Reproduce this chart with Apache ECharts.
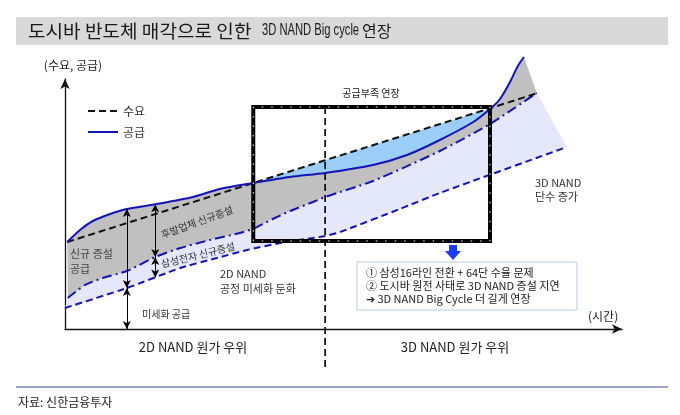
<!DOCTYPE html>
<html><head><meta charset="utf-8">
<script src="https://cdn.jsdelivr.net/npm/echarts@6/dist/echarts.min.js"></script>
<style>html,body{margin:0;padding:0;background:#fff}#c{width:680px;height:415px}</style>
</head><body><div id="c"></div>
<script>
// ---- conceptual data (x: time 0-100, y: quantity 0-100) ----
const demand = [[0.4,34.8],[33.8,58.4],[46.7,67.5],[76.3,88.3],[84.9,94.4]];
const supply = [[0.4,34.8],[2.7,39.6],[5,43.2],[8.1,46],[11.1,48],[16.5,50],[23,52.8],[27.8,56],[33.8,58.4],[40.4,60.8],[46.7,62.4],[55.3,65.6],[61.4,69.6],[67.3,75.6],[73.3,82.8],[76.3,88],[78.1,92],[79.9,98.8],[81.3,105.2],[82.4,108.8]];
const samsungNew = [[0.5,12.4],[3.6,17.6],[6.8,20.4],[11.1,23.2],[16.2,28.8],[20.7,32.4],[26,35.6],[31.4,38.4],[34.1,40.4],[37.3,44],[40.4,47.2],[44.5,50.8],[46.7,52.8],[55.3,59.2],[67.3,71.2],[76.3,82],[84.7,94.4]];
const shrinkSupply = [[0,8.4],[11.1,16.4],[20.7,24.4],[26.6,28],[32.7,31.6],[38.6,34.4],[44.5,36.4],[46.7,37.2],[49.4,38.8],[60.1,48],[67.3,54.4],[90.1,72.8]];
const shortagePeriod = [33.8, 76.3];
const shortageLevel = [35.2, 88.8];
const costCrossover = 46.7;
const legendNames = ['수요', '공급'];

const KR = "'Noto Sans CJK KR','Noto Sans',sans-serif";
const BLUE = '#1414b4';

function valAt(arr, x) {
  for (let i = 1; i < arr.length; i++) {
    if (x <= arr[i][0]) {
      const [x0, y0] = arr[i-1], [x1, y1] = arr[i];
      return y0 + (y1 - y0) * (x - x0) / (x1 - x0);
    }
  }
  return arr[arr.length-1][1];
}
const inRange = (arr) => arr.filter(p => p[0] >= shortagePeriod[0] - 1e-6 && p[0] <= shortagePeriod[1] + 1e-6);

const grayPoly = supply.concat(samsungNew.slice().reverse());
const lavPoly = samsungNew.concat(shrinkSupply.slice().reverse());
const bluePoly = inRange(demand).concat(inRange(supply).reverse());
const boxPath = [[shortagePeriod[0],shortageLevel[0]],[shortagePeriod[0],shortageLevel[1]],[shortagePeriod[1],shortageLevel[1]],[shortagePeriod[1],shortageLevel[0]],[shortagePeriod[0],shortageLevel[0]]];
const dividerPath = [[costCrossover, shortageLevel[1]],[costCrossover, -15.6]];

const xA = 11.1, xB = 16.2;
const arrowLines = [
  [{coord:[xA, valAt(supply,xA)]},{coord:[xA, valAt(shrinkSupply,xA)]}],
  [{coord:[xA, valAt(shrinkSupply,xA)]},{coord:[xA, 0]}],
  [{coord:[xB, valAt(supply,xB)]},{coord:[xB, valAt(samsungNew,xB)]}],
  [{coord:[xB, valAt(samsungNew,xB)]},{coord:[xB, valAt(shrinkSupply,xB)]}],
  [{coord:[-0.4, -11.2]},{coord:[costCrossover, -11.2]}],
  [{coord:[costCrossover, -11.2]},{coord:[99.1, -11.2]}]
];

const chart = echarts.init(document.getElementById('c'), null, {renderer:'canvas'});
const txt = (x, y, text, o) => Object.assign({type:'text', x, y, z:100, silent:true, style:Object.assign({text, font:`${(o&&o.size)||11}px ${KR}`, fill:(o&&o.color)||'#222', textAlign:(o&&o.align)||'left', textVerticalAlign:'middle'}, (o&&o.style)||{})}, (o&&o.el)||{});

chart.setOption({
  animation: false,
  backgroundColor: '#fff',
  grid: {left: 65, right: 58, top: 79, bottom: 86},
  xAxis: {type:'value', min:0, max:100, splitLine:{show:false}, axisTick:{show:false}, axisLabel:{show:false},
    axisLine:{show:true, onZero:false, symbol:['none','arrow'], symbolSize:[7,10], lineStyle:{color:'#111', width:1.3}}},
  yAxis: {type:'value', min:0, max:100, splitLine:{show:false}, axisTick:{show:false}, axisLabel:{show:false},
    axisLine:{show:true, onZero:false, symbol:['none','arrow'], symbolSize:[7,10], lineStyle:{color:'#111', width:1.3}}},
  legend: {orient:'vertical', left:82, top:100, itemWidth:30, itemHeight:12, itemGap:9, data:legendNames,
    itemStyle:{opacity:0},
    textStyle:{fontSize:12, color:'#333', fontFamily:KR}},
  series: [
    {type:'custom', silent:true, clip:false, z:1, data:[[0,0]],
      renderItem: (params, api) => ({type:'group', children:[
        {type:'polygon', shape:{points: lavPoly.map(p=>api.coord(p))}, style:{fill:'#e5e8fb'}},
        {type:'polygon', shape:{points: grayPoly.map(p=>api.coord(p))}, style:{fill:'#c0c0c0'}},
        {type:'polygon', shape:{points: bluePoly.map(p=>api.coord(p))}, style:{fill:'#9ccdf8'}}
      ]})},
    {name:'samsung', type:'line', data:samsungNew, symbol:'none', smooth:0.2, clip:false, z:3,
      lineStyle:{color:BLUE, width:2, type:[10,4,2,4]}},
    {name:'shrink', type:'line', data:shrinkSupply, symbol:'none', smooth:0.2, clip:false, z:3,
      lineStyle:{color:BLUE, width:2, type:[7,4]}},
    {name:'수요', type:'line', data:demand, symbol:'none', clip:false, z:4, color:'#111',
      lineStyle:{color:'#111', width:2, type:[7,4]}},
    {name:'공급', type:'line', data:supply, symbol:'none', smooth:0.25, clip:false, z:4, color:BLUE,
      lineStyle:{color:BLUE, width:2}},
    {name:'box', type:'line', data:boxPath, symbol:'none', clip:false, z:5,
      lineStyle:{color:'#000', width:4, join:'miter', cap:'square'}},
    {name:'boxdots', type:'line', data:boxPath, symbol:'none', clip:false, z:6,
      lineStyle:{color:'#fff', width:1, type:[1.5,8]}},
    {name:'divider', type:'line', data:dividerPath, symbol:'none', clip:false, z:5,
      lineStyle:{color:'#000', width:1.6, type:[7,4]},
      markLine:{silent:true, symbol:['arrow','arrow'], symbolSize:[6,8], label:{show:false}, z:7,
        lineStyle:{color:'#000', width:1, type:'solid'}, emphasis:{disabled:true}, data:arrowLines}}
  ],
  graphic: [
    {type:'rect', silent:true, z:90, shape:{x:16, y:17, width:652, height:28}, style:{fill:'#d9d9d9'}},
    txt(28, 31, '도시바 반도체 매각으로 인한', {size:18, color:'#1a1a1a', el:{scaleX:1.06}}),
    txt(262, 31, '3D NAND Big cycle', {color:'#1a1a1a', style:{font:`16px 'Liberation Sans',sans-serif`}, el:{scaleX:0.7}}),
    txt(362, 31, '연장', {size:16, color:'#1a1a1a'}),
    {type:'line', silent:true, z:90, shape:{x1:16, y1:387, x2:668, y2:387}, style:{stroke:'#7f83b5', lineWidth:1.5}},
    txt(18, 402, '자료: 신한금융투자', {size:12}),
    txt(73, 65, '(수요, 공급)', {size:12, align:'center'}),
    txt(588, 316, '(시간)', {size:12}),
    txt(371, 93, '공급부족 연장', {size:10, align:'center'}),
    txt(70, 254, '신규 증설', {size:11, color:'#444'}),
    txt(70, 269, '공급', {size:11, color:'#444'}),
    txt(197, 222, '후발업체 신규증설', {size:10, align:'center', color:'#333', el:{rotation:20*Math.PI/180}}),
    txt(198, 255, '삼성전자 신규증설', {size:10, align:'center', color:'#333', el:{rotation:14*Math.PI/180}}),
    txt(142, 314, '미세화 공급', {size:10, color:'#333'}),
    txt(220, 274, '2D NAND', {size:11, color:'#333'}),
    txt(220, 289, '공정 미세화 둔화', {size:11, color:'#333'}),
    txt(535, 183, '3D NAND', {size:11, color:'#333'}),
    txt(535, 197, '단수 증가', {size:11, color:'#333'}),
    txt(193, 347, '2D NAND 원가 우위', {size:13, align:'center'}),
    txt(455, 347, '3D NAND 원가 우위', {size:13, align:'center'}),
    {type:'polygon', silent:true, z:100, shape:{points:[[449,245],[457,245],[457,251],[461,251],[453,260],[445,251],[449,251]]}, style:{fill:'#1a3cff'}},
    {type:'rect', silent:true, z:95, shape:{x:357, y:262, width:220, height:48}, style:{fill:'#fff', stroke:'#b9cde5', lineWidth:1}},
    txt(366, 273, '① 삼성16라인 전환 + 64단 수율 문제', {size:11}),
    txt(366, 286, '② 도시바 원전 사태로 3D NAND 증설 지연', {size:11}),
    txt(366, 299, '➔ 3D NAND Big Cycle 더 길게 연장', {size:11})
  ]
});
</script></body></html>
